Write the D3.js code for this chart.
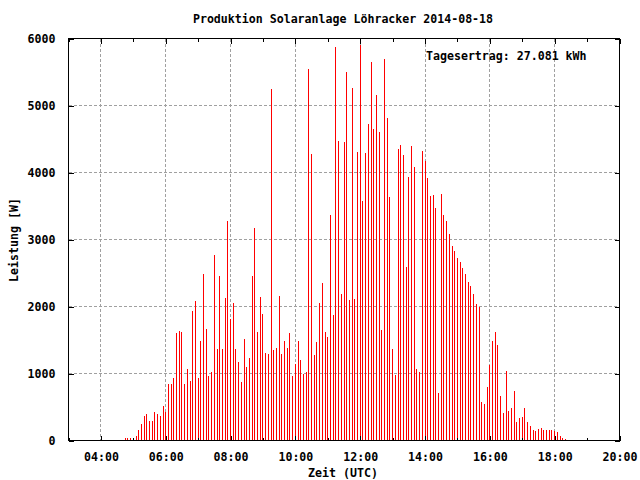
<!DOCTYPE html>
<html><head><meta charset="utf-8">
<script src="https://cdn.jsdelivr.net/npm/d3@7"></script>
<style>
body{margin:0;background:#fff}
svg text{font-family:"DejaVu Sans Mono","Liberation Mono",monospace;font-weight:bold;font-size:11.6px;fill:#000}
</style>
</head><body>
<svg id="c" width="640" height="480"></svg>
<script>
const title = "Produktion Solaranlage Löhracker 2014-08-18";
const xLabel = "Zeit (UTC)";
const yLabel = "Leistung [W]";
const annotation = "Tagesertrag: 27.081 kWh";

const times = [
"04:25","04:30","04:35","04:40","04:45","04:50","04:55",
"05:00","05:05","05:10","05:15","05:20","05:25","05:30","05:35","05:40","05:45","05:50","05:55",
"06:00","06:05","06:10","06:15","06:20","06:25","06:30","06:35","06:40","06:45","06:50","06:55",
"07:00","07:05","07:10","07:15","07:20","07:25","07:30","07:35","07:40","07:45","07:50","07:55",
"08:00","08:05","08:10","08:15","08:20","08:25","08:30","08:35","08:40","08:45","08:50","08:55",
"09:00","09:05","09:10","09:15","09:20","09:25","09:30","09:35","09:40","09:45","09:50","09:55",
"10:00","10:05","10:10","10:15","10:20","10:25","10:30","10:35","10:40","10:45","10:50","10:55",
"11:00","11:05","11:10","11:15","11:20","11:25","11:30","11:35","11:40","11:45","11:50","11:55",
"12:00","12:05","12:10","12:15","12:20","12:25","12:30","12:35","12:40","12:45","12:50","12:55",
"13:00","13:05","13:10","13:15","13:20","13:25","13:30","13:35","13:40","13:45","13:50","13:55",
"14:00","14:05","14:10","14:15","14:20","14:25","14:30","14:35","14:40","14:45","14:50","14:55",
"15:00","15:05","15:10","15:15","15:20","15:25","15:30","15:35","15:40","15:45","15:50","15:55",
"16:00","16:05","16:10","16:15","16:20","16:25","16:30","16:35","16:40","16:45","16:50","16:55",
"17:00","17:05","17:10","17:15","17:20","17:25","17:30","17:35","17:40","17:45","17:50","17:55",
"18:00","18:05","18:10","18:15","18:20"
];

const power = [
10,10,10,10,30,40,40,40,60,150,250,370,400,285,285,420,390,360,520,430,850,850,940,1600,1640,1625,850,
1060,895,1940,2075,940,1480,2490,1670,970,1015,2775,1360,2450,1360,2120,3280,1820,2045,1360,1165,880,1520,1090,1225,2450,3165,1625,2135,1895,
1300,1285,5240,1345,1375,2150,1285,1480,1375,1610,970,1135,1480,1195,1000,1015,5540,4275,1270,1465,2045,2345,1625,1550,3360,1880,5870,4465,2180,4450,
5495,2090,5255,2105,4310,5900,3570,4295,4730,5645,4655,5150,4610,1645,5690,4820,3630,1360,985,4355,4410,4260,2595,3940,4395,4075,1060,1015,4325,
4165,3925,3655,3670,3475,705,3685,3360,3270,3075,2910,2835,2730,2670,2580,2490,2370,2310,2190,2040,1995,570,540,795,1120,1480,1615,1420,660,405,
1030,435,480,735,270,330,345,480,270,210,150,135,165,180,150,150,150,150,135,120,60,30,15
];

const xDomain = ["03:00","20:00"];
const xMajorTicks = ["04:00","06:00","08:00","10:00","12:00","14:00","16:00","18:00","20:00"];
const xMinorTicks = ["03:00","05:00","07:00","09:00","11:00","13:00","15:00","17:00","19:00"];
const yTicks = [0,1000,2000,3000,4000,5000,6000];

const toMin = s => +s.slice(0,2)*60 + +s.slice(3,5);
const fmt = m => String(Math.floor(m/60)).padStart(2,"0") + ":" + String(m%60).padStart(2,"0");

const L = 68.5, R = 619.5, T = 38.5, B = 440.5;
const x = d3.scaleLinear().domain(xDomain.map(toMin)).range([L, R]);
const y = d3.scaleLinear().domain([0, 6000]).range([B, T]);

const svg = d3.select("#c");
const grid = "#a0a0a0";

// grid lines
const gridX = xMajorTicks.map(toMin).filter(m => x(m) < R - 1);
svg.append("g").selectAll("line").data(gridX).join("line")
  .attr("x1", d => Math.round(x(d) - 0.5) + 0.5).attr("x2", d => Math.round(x(d) - 0.5) + 0.5)
  .attr("y1", T).attr("y2", B)
  .attr("stroke", grid).attr("stroke-dasharray", "3,2").attr("shape-rendering", "crispEdges");
svg.append("g").selectAll("line").data(yTicks.filter(v => v > 0 && v < 6000)).join("line")
  .attr("x1", L).attr("x2", R)
  .attr("y1", d => Math.round(y(d) - 0.5) + 0.5).attr("y2", d => Math.round(y(d) - 0.5) + 0.5)
  .attr("stroke", grid).attr("stroke-dasharray", "3,2").attr("shape-rendering", "crispEdges");

// impulses
svg.append("g").selectAll("line").data(times.map((t, i) => ({t: toMin(t), v: power[i]}))).join("line")
  .attr("x1", d => Math.round(x(d.t) - 0.5) + 0.5).attr("x2", d => Math.round(x(d.t) - 0.5) + 0.5)
  .attr("y1", y(0)).attr("y2", d => y(d.v))
  .attr("stroke", "#ff0000").attr("stroke-width", 1).attr("shape-rendering", "crispEdges");

// axes
function styleAxis(g) {
  g.select(".domain").remove();
  g.selectAll("line").attr("stroke", "#000").attr("shape-rendering", "crispEdges");
  g.selectAll("text").attr("font-family", null).attr("font-size", null);
}
svg.append("g").attr("transform", `translate(0,${B})`)
  .call(d3.axisBottom(x).tickValues(xMajorTicks.map(toMin)).tickFormat(fmt).tickSizeInner(-5).tickSizeOuter(0).tickPadding(12))
  .call(styleAxis);
svg.append("g").attr("transform", `translate(0,${B})`)
  .call(d3.axisBottom(x).tickValues(xMinorTicks.map(toMin)).tickFormat("").tickSizeInner(-3).tickSizeOuter(0))
  .call(styleAxis);
svg.append("g").attr("transform", `translate(0,${T})`)
  .call(d3.axisTop(x).tickValues(xMajorTicks.map(toMin)).tickFormat("").tickSizeInner(-5).tickSizeOuter(0))
  .call(styleAxis);
svg.append("g").attr("transform", `translate(0,${T})`)
  .call(d3.axisTop(x).tickValues(xMinorTicks.map(toMin)).tickFormat("").tickSizeInner(-3).tickSizeOuter(0))
  .call(styleAxis);
svg.append("g").attr("transform", `translate(${L},0)`)
  .call(d3.axisLeft(y).tickValues(yTicks).tickFormat(d3.format("d")).tickSizeInner(-5).tickSizeOuter(0).tickPadding(13))
  .call(styleAxis);
svg.append("g").attr("transform", `translate(${R},0)`)
  .call(d3.axisRight(y).tickValues(yTicks).tickFormat("").tickSizeInner(-5).tickSizeOuter(0))
  .call(styleAxis);

// frame
svg.append("rect").attr("x", L).attr("y", T).attr("width", R - L).attr("height", B - T)
  .attr("fill", "none").attr("stroke", "#000").attr("shape-rendering", "crispEdges");

// texts
svg.append("text").attr("x", 343).attr("y", 22.5).attr("text-anchor", "middle").text(title);
svg.append("text").attr("x", 343).attr("y", 477).attr("text-anchor", "middle").text(xLabel);
svg.append("text").attr("transform", "translate(18,240) rotate(-90)").attr("text-anchor", "middle").text(yLabel);
svg.append("text").attr("x", 426).attr("y", 60).text(annotation);
</script>
</body></html>
